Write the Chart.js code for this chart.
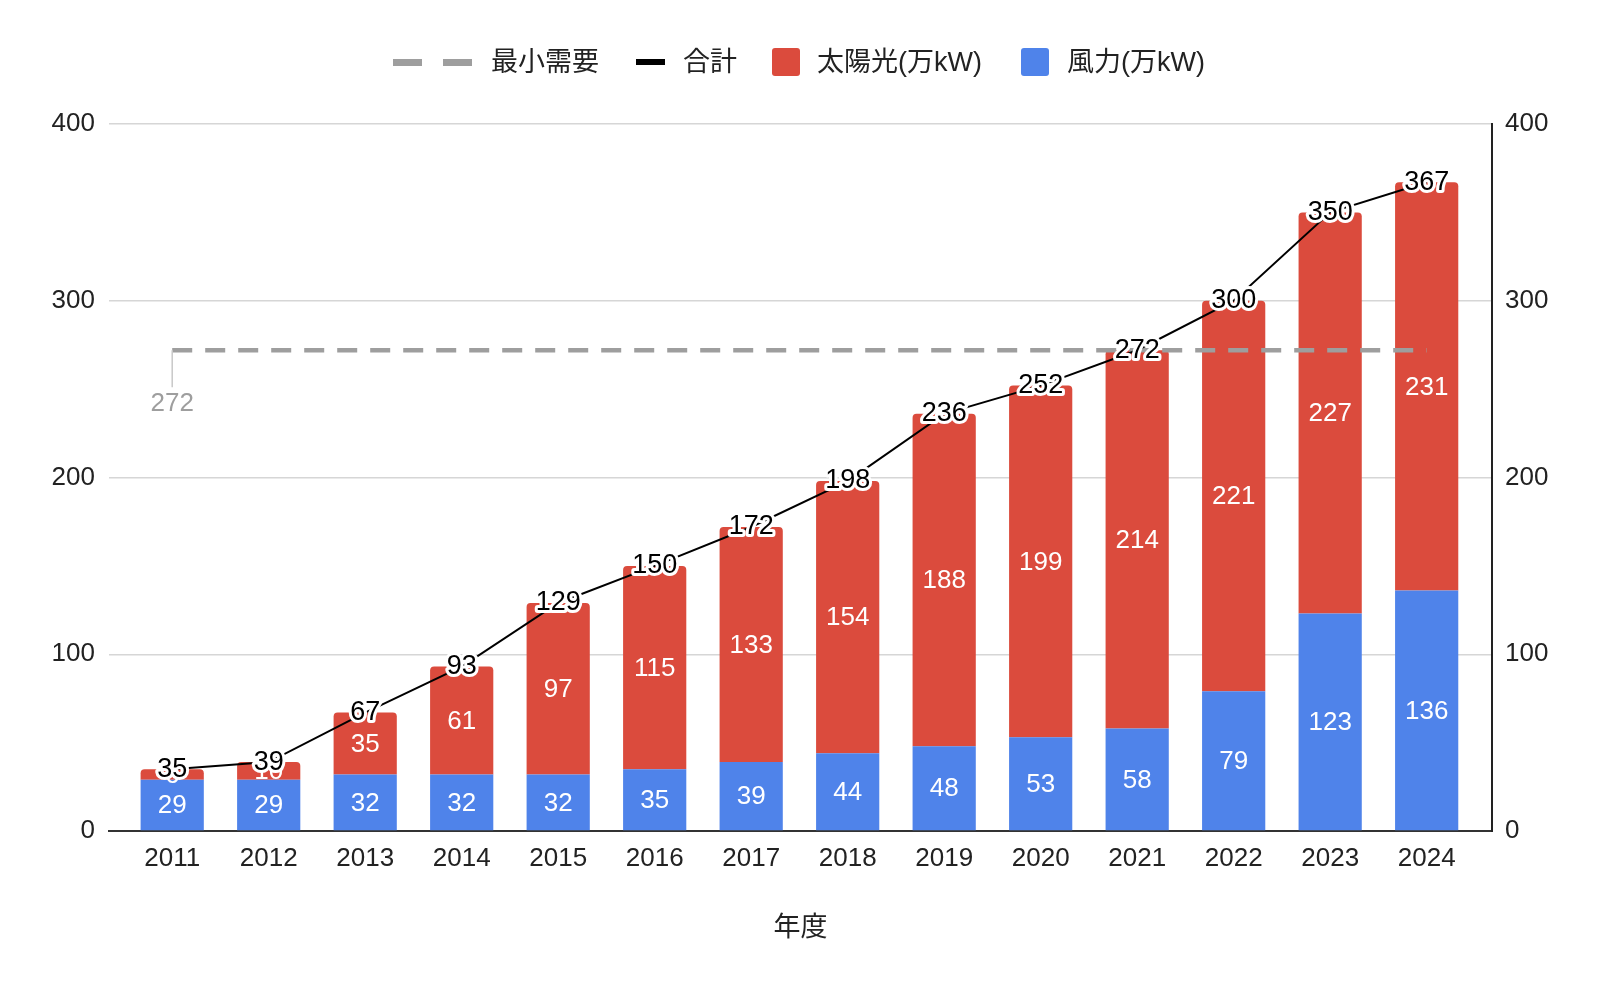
<!DOCTYPE html>
<html>
<head>
<meta charset="utf-8">
<script src="https://cdn.jsdelivr.net/npm/chart.js@4"></script>
<style>
  body { margin: 0; background: #fff; }
  #wrap { position: relative; width: 1600px; height: 990px; }
  #legend { position: absolute; top: 0; left: 0; width: 1600px; height: 100px;
            font-family: "Liberation Sans", "Noto Sans CJK JP", sans-serif; font-size: 27px; color: #222; }
  .mk { position: absolute; }
  .tx { position: absolute; top: 44px; line-height: 36px; white-space: nowrap; }
</style>
</head>
<body>
<div id="wrap">
  <canvas id="chart" width="1600" height="990"></canvas>
  <div id="legend">
    <div class="mk" style="left:393px; top:59px; width:29px; height:7px; background:#9e9e9e;"></div>
    <div class="mk" style="left:443px; top:59px; width:29px; height:7px; background:#9e9e9e;"></div>
    <div class="tx" style="left:491px;">最小需要</div>
    <div class="mk" style="left:636px; top:59px; width:29px; height:6px; background:#000;"></div>
    <div class="tx" style="left:683px;">合計</div>
    <div class="mk" style="left:772px; top:48px; width:28px; height:28px; border-radius:3px; background:#db4b3d;"></div>
    <div class="tx" style="left:817px;">太陽光(万kW)</div>
    <div class="mk" style="left:1021px; top:48px; width:28px; height:28px; border-radius:3px; background:#4f83ea;"></div>
    <div class="tx" style="left:1067px;">風力(万kW)</div>
  </div>
</div>
<script>
var years = [2011, 2012, 2013, 2014, 2015, 2016, 2017, 2018, 2019, 2020, 2021, 2022, 2023, 2024];
var wind = [29, 29, 32, 32, 32, 35, 39, 44, 48, 53, 58, 79, 123, 136];
var solar = [6, 10, 35, 61, 97, 115, 133, 154, 188, 199, 214, 221, 227, 231];
var total = [35, 39, 67, 93, 129, 150, 172, 198, 236, 252, 272, 300, 350, 367];
var minDemand = [272, 272, 272, 272, 272, 272, 272, 272, 272, 272, 272, 272, 272, 272];
var yTicks = [0, 100, 200, 300, 400];

var RED = '#db4b3d';
var BLUE = '#4f83ea';
var FONT = '"Liberation Sans", "Noto Sans CJK JP", sans-serif';

// value labels on bars and line points
var labelPlugin = {
    id: 'labels',
    afterDatasetsDraw: function(chart) {
        var ctx = chart.ctx;
        ctx.save();
        ctx.textAlign = 'center';
        ctx.textBaseline = 'middle';

        ctx.font = '26px ' + FONT;
        [2, 3].forEach(function(di) {
            var meta = chart.getDatasetMeta(di);
            var vals = chart.data.datasets[di].data;
            meta.data.forEach(function(el, i) {
                ctx.fillStyle = '#fff';
                ctx.fillText(vals[i], el.x, (el.y + el.base) / 2 + 1);
            });
        });

        // min demand label with leader
        var dm = chart.getDatasetMeta(1).data[0];
        ctx.strokeStyle = '#c8c8c8';
        ctx.lineWidth = 1.5;
        ctx.beginPath();
        ctx.moveTo(dm.x, dm.y);
        ctx.lineTo(dm.x, dm.y + 37);
        ctx.stroke();
        ctx.fillStyle = '#9e9e9e';
        ctx.fillText(minDemand[0], dm.x, dm.y + 54);

        // totals with white halo
        ctx.font = '27px ' + FONT;
        var tm = chart.getDatasetMeta(0);
        tm.data.forEach(function(el, i) {
            ctx.lineJoin = 'round';
            ctx.lineWidth = 6;
            ctx.strokeStyle = '#fff';
            ctx.strokeText(total[i], el.x, el.y);
            ctx.fillStyle = '#000';
            ctx.fillText(total[i], el.x, el.y);
        });
        ctx.restore();
    }
};

new Chart(document.getElementById('chart').getContext('2d'), {
    type: 'bar',
    data: {
        labels: years,
        datasets: [{
            type: 'line',
            label: '合計',
            data: total,
            borderColor: '#000',
            borderWidth: 2,
            pointRadius: 0,
            stack: 'a',
            order: 0
        }, {
            type: 'line',
            label: '最小需要',
            data: minDemand,
            borderColor: '#9e9e9e',
            borderWidth: 4.5,
            borderDash: [20, 13],
            pointRadius: 0,
            stack: 'b',
            order: 1
        }, {
            label: '太陽光(万kW)',
            data: solar,
            backgroundColor: RED,
            borderRadius: 4,
            stack: 'bars',
            order: 3,
            barPercentage: 0.655,
            categoryPercentage: 1
        }, {
            label: '風力(万kW)',
            data: wind,
            backgroundColor: BLUE,
            stack: 'bars',
            order: 2,
            barPercentage: 0.655,
            categoryPercentage: 1
        }]
    },
    options: {
        responsive: false,
        animation: false,
        events: [],
        devicePixelRatio: 1,
        layout: { padding: { top: 124, left: 0, right: 0, bottom: 0 } },
        scales: {
            x: {
                type: 'linear',
                stacked: true,
                offset: false,
                min: 2011 - 0.655,
                max: 2024 + 0.677,
                grid: { display: false },
                border: { display: true, color: '#333', width: 2 },
                ticks: {
                    stepSize: 1,
                    includeBounds: false,
                    padding: 4,
                    color: '#222',
                    font: { family: FONT, size: 26 },
                    callback: function(v) { return String(v); }
                },
                title: {
                    display: true,
                    text: '年度',
                    color: '#222',
                    font: { family: FONT, size: 27 },
                    padding: { top: 0, bottom: 45 }
                },
                afterFit: function(s) { s.height = 159; }
            },
            y: {
                stacked: true,
                min: 0,
                max: 400,
                grid: { color: '#d6d6d6', lineWidth: 1.5, drawTicks: false },
                border: { display: false },
                ticks: {
                    stepSize: 100,
                    padding: 14,
                    color: '#222',
                    font: { family: FONT, size: 26 },
                    callback: function(v) { return yTicks.indexOf(v) >= 0 ? String(v) : ''; }
                },
                afterFit: function(s) { s.width = 109; }
            },
            y2: {
                position: 'right',
                min: 0,
                max: 400,
                grid: { display: false, drawTicks: false },
                border: { display: true, color: '#222', width: 2 },
                ticks: {
                    stepSize: 100,
                    padding: 13,
                    color: '#222',
                    font: { family: FONT, size: 26 }
                },
                afterFit: function(s) { s.width = 108; }
            }
        },
        plugins: {
            legend: { display: false },
            tooltip: { enabled: false }
        }
    },
    plugins: [labelPlugin]
});
</script>
</body>
</html>
